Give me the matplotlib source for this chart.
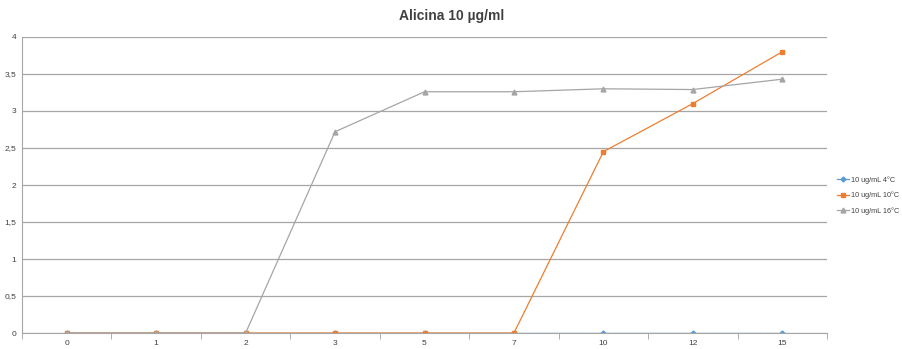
import matplotlib.pyplot as plt
from matplotlib.ticker import FuncFormatter, FixedLocator

plt.rcParams["font.family"] = ["Liberation Sans", "DejaVu Sans"]

days = ["0", "1", "2", "3", "5", "7", "10", "12", "15"]
temp_4 = [0, 0, 0, 0, 0, 0, 0, 0, 0]
temp_10 = [0, 0, 0, 0, 0, 0, 2.45, 3.10, 3.80]
temp_16 = [0, 0, 0, 2.72, 3.26, 3.26, 3.30, 3.29, 3.43]

fig = plt.figure(figsize=(9.03, 3.49), dpi=100)
ax = fig.add_axes([0.0244, 0.0458, 0.8914, 0.8482])

x = list(range(len(days)))
ax.plot(x, temp_4, color="#5B9BD5", marker="D", markersize=2.5, lw=0.9, label="10 ug/mL 4°C")
ax.plot(x, temp_10, color="#ED7D31", marker="s", markersize=3.5, lw=0.9, label="10 ug/mL 10°C")
ax.plot(x, temp_16, color="#A5A5A5", marker="^", markersize=3.5, lw=0.9, label="10 ug/mL 16°C")

ax.set_xlim(-0.5, len(days) - 0.5)
ax.set_ylim(0, 4)
ax.set_yticks([0, 0.5, 1, 1.5, 2, 2.5, 3, 3.5, 4])
ax.yaxis.set_major_formatter(FuncFormatter(lambda v, p: f"{v:g}".replace(".", ",")))
ax.set_xticks(x)
ax.set_xticklabels(days)
ax.xaxis.set_minor_locator(FixedLocator([i + 0.5 for i in range(-1, len(days))]))
ax.tick_params(axis="x", which="major", length=0, labelsize=6, pad=5, colors="#404040")
ax.tick_params(axis="x", which="minor", length=4, color="#A0A0A0", direction="out")
ax.tick_params(axis="y", length=0, labelsize=6, pad=4, colors="#404040")

ax.grid(axis="y", color="#A6A6A6", lw=0.9)
ax.set_axisbelow(True)
for s in ["top", "right"]:
    ax.spines[s].set_visible(False)
ax.spines["left"].set_color("#A6A6A6")
ax.spines["bottom"].set_color("#A6A6A6")

fig.suptitle("Alicina 10 µg/ml", x=0.5, y=0.975, fontsize=10, fontweight="bold", color="#404040")
ax.legend(loc="center left", bbox_to_anchor=(837 / 903, 0.44), bbox_transform=fig.transFigure,
          frameon=False, fontsize=5.2, borderpad=0, borderaxespad=0,
          handlelength=1.7, labelspacing=1.05, handletextpad=0.3, labelcolor="#404040")

fig.savefig("out.png", dpi=100)
